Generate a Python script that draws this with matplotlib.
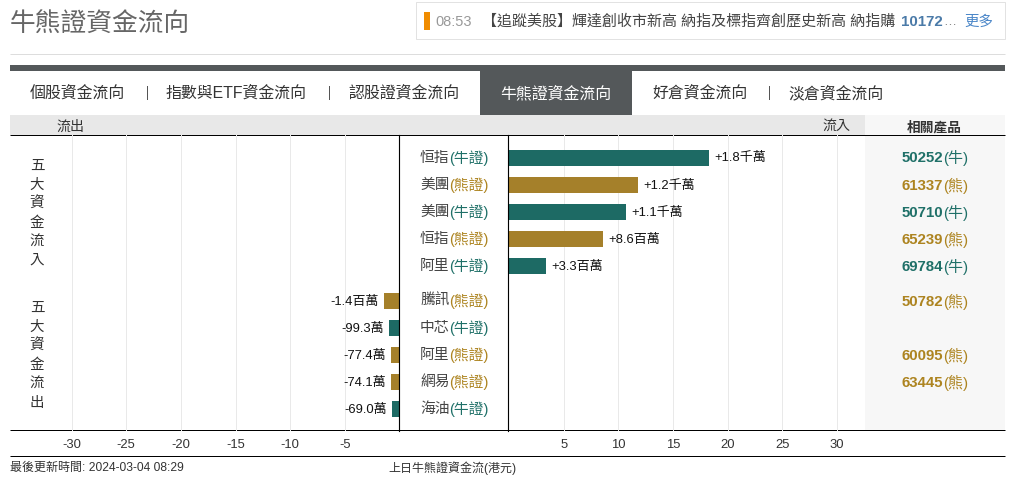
import matplotlib
matplotlib.use("Agg")
import matplotlib.pyplot as plt
from matplotlib.patches import Rectangle

plt.rcParams['font.family'] = ['Liberation Sans', 'Noto Sans CJK TC', 'DejaVu Sans']
plt.rcParams['axes.unicode_minus'] = False

# ---------- data ----------
inflow_names = ['恒指', '美團', '美團', '恒指', '阿里']
inflow_types = ['牛證', '熊證', '牛證', '熊證', '牛證']
inflow_values = [18.3, 11.8, 10.7, 8.6, 3.4]
inflow_labels = ['+1.8千萬', '+1.2千萬', '+1.1千萬', '+8.6百萬', '+3.3百萬']
inflow_codes = ['50252', '61337', '50710', '65239', '69784']

outflow_names = ['騰訊', '中芯', '阿里', '網易', '海油']
outflow_types = ['熊證', '牛證', '熊證', '熊證', '牛證']
outflow_values = [-1.4, -0.993, -0.774, -0.741, -0.69]
outflow_labels = ['-1.4百萬', '-99.3萬', '-77.4萬', '-74.1萬', '-69.0萬']
outflow_codes = ['50782', '', '60095', '63445', '']

left_ticks = [-30, -25, -20, -15, -10, -5]
right_ticks = [5, 10, 15, 20, 25, 30]
tabs = ['個股資金流向', '指數與ETF資金流向', '認股證資金流向', '牛熊證資金流向', '好倉資金流向', '淡倉資金流向']
news_text = '【追蹤美股】輝達創收市新高 納指及標指齊創歷史新高 納指購'

# ---------- layout ----------
W, H = 1014, 490
TEAL, GOLD = '#1d6a64', '#a5802a'
TEAL_T, GOLD_T = '#1f7068', '#ad8420'
DARK = '#54585a'
PX_PER_UNIT = 10.93
PX = 0.72  # points per pixel at dpi 100
LW = 0.72  # one pixel

fig = plt.figure(figsize=(W / 100, H / 100), dpi=100, facecolor='white')


def axes_px(x0, y0, x1, y1, **kw):
    return fig.add_axes([x0 / W, 1 - y1 / H, (x1 - x0) / W, (y1 - y0) / H], **kw)


bg = axes_px(0, 0, W, H)
bg.set_xlim(0, W)
bg.set_ylim(H, 0)
bg.axis('off')
bg.set_zorder(0)


def rect(x0, y0, x1, y1, color, **kw):
    bg.add_patch(Rectangle((x0, y0), x1 - x0, y1 - y0, facecolor=color, edgecolor='none', **kw))


def txt(x, y, s, px=14, color='#333333', ha='left', **kw):
    return bg.text(x, y + 0.08 * px, s, fontsize=px * PX, color=color, ha=ha, va='center', **kw)


def hline(x0, x1, y, color, z=1):
    bg.plot([x0, x1], [y, y], color=color, lw=LW, solid_capstyle='butt', zorder=z)


# page chrome
txt(10, 22.5, '牛熊證資金流向', px=25.7, color='#666666')
bg.add_patch(Rectangle((415.5, 2.5), 589, 37, facecolor='white', edgecolor='#e2e2e2', lw=LW))
rect(424, 12, 430, 30, '#f08c00')
txt(435, 20.5, '08:53', px=14.5, color='#999999')
txt(482, 20.5, news_text, px=15, color='#444444')
txt(901, 20.5, '10172', px=15, color='#4a7aa8', fontweight='bold')
txt(943, 20.5, '…', px=13, color='#777777')
txt(964, 20.5, '更多', px=14.5, color='#4a86c8')
hline(10, 1005, 54.5, '#dddddd')
rect(10, 65, 1005, 71, DARK)
rect(480, 71, 632, 115, DARK)

tab_x = [30, 166, 348, 500, 652, 788]
for x, s in zip(tab_x, tabs):
    txt(x, 92, s, px=15.9, color='white' if s == tabs[3] else '#333333')
for x in [146, 328, 768]:
    bg.plot([x + 0.5, x + 0.5], [86, 99], color='#555555', lw=LW)

rect(10, 115, 865, 135, '#e8e8e8')
rect(865, 115, 1005, 431, '#f7f7f7')
txt(56.5, 126, '流出', px=14)
txt(822.5, 126, '流入', px=14)
txt(907, 126, '相關產品', px=13.7, fontweight='bold')

for i, s in enumerate('五大資金流入'):
    txt(37, 165 + i * 18.9, s, px=14.5, ha='center')
for i, s in enumerate('五大資金流出'):
    txt(37, 307 + i * 19, s, px=14.5, ha='center')

hline(10, 1005, 135.5, 'black', z=6)
hline(10, 1005, 455.5, 'black')
txt(10, 467, '最後更新時間: 2024-03-04 08:29', px=12)
txt(388, 467, '上日牛熊證資金流(港元)', px=12)

# ---------- chart axes ----------
TOP, BOTTOM = 135.5, 430.5
row_h = 27.0
ylim = (10.09, -0.833)
row_in = [0, 1, 2, 3, 4]
row_out = [5.3, 6.3, 7.3, 8.3, 9.3]

axL = axes_px(10, TOP, 399.5, BOTTOM)
axR = axes_px(509, TOP, 865, BOTTOM)
axL.set_xlim(-(399.5 - 10) / PX_PER_UNIT, 0)
axR.set_xlim(0, (865 - 509) / PX_PER_UNIT)

for ax, ticks in ((axL, left_ticks), (axR, right_ticks)):
    ax.set_ylim(*ylim)
    ax.set_yticks([])
    ax.set_xticks(ticks)
    ax.set_xticklabels([str(t) for t in ticks], fontsize=13 * PX, color='#333333')
    ax.tick_params(axis='x', length=0, pad=6)
    ax.grid(axis='x', color='#e9e9e9', lw=LW)
    ax.set_axisbelow(True)
    ax.patch.set_alpha(0)
    ax.set_zorder(2)
    for sp in ax.spines.values():
        sp.set_visible(False)
axL.spines['right'].set_visible(True)
axL.spines['right'].set_linewidth(LW + 0.1)
axL.spines['right'].set_position(('outward', -0.4))
axR.spines['left'].set_visible(True)
axR.spines['left'].set_linewidth(LW + 0.1)
axR.spines['left'].set_position(('outward', 0.4))
hline(10, 1005, 429.5, 'black', z=6)


def bar_colors(types):
    return [TEAL if t == '牛證' else GOLD for t in types]


axR.barh(row_in, inflow_values, height=16 / row_h, color=bar_colors(inflow_types))
axL.barh(row_out, outflow_values, height=16 / row_h, color=bar_colors(outflow_types))

for v, y, s in zip(inflow_values, row_in, inflow_labels):
    axR.annotate(s, (v, y), xytext=(5, -0.5), textcoords='offset pixels', ha='left', va='center',
                 fontsize=13 * PX, color='#111111')
for v, y, s in zip(outflow_values, row_out, outflow_labels):
    axL.annotate(s, (v, y), xytext=(-5, -0.5), textcoords='offset pixels', ha='right', va='center',
                 fontsize=13 * PX, color='#111111')

for names, types, codes, rows in ((inflow_names, inflow_types, inflow_codes, row_in),
                                  (outflow_names, outflow_types, outflow_codes, row_out)):
    for n, t, c, y in zip(names, types, codes, rows):
        col = TEAL_T if t == '牛證' else GOLD_T
        coords = (bg.transData, axL.transData)
        kw = dict(xycoords=coords, textcoords='offset pixels', va='center', zorder=5)
        bg.annotate(n, (449.5, y), xytext=(0, 0), ha='right', fontsize=14.8 * PX,
                    color='#444444', **kw)
        bg.annotate('(' + t + ')', (449.5, y), xytext=(0, 0), ha='left',
                    fontsize=14.8 * PX, color=col, **kw)
        if c:
            bg.annotate(c, (902, y), xytext=(0, -0.5), ha='left', fontsize=15 * PX,
                        color=col, fontweight='bold', **kw)
            bg.annotate('(' + t[0] + ')', (943, y), xytext=(0, -0.5), ha='left',
                        fontsize=15 * PX, color=col, **kw)

fig.savefig('out.png', dpi=100)
